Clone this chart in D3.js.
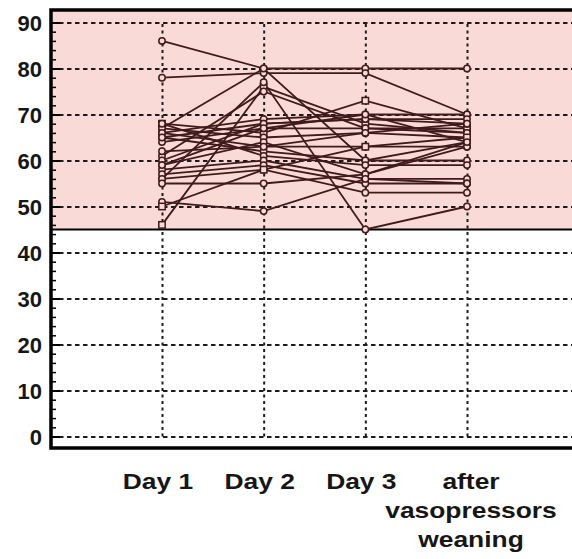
<!DOCTYPE html>
<html>
<head>
<meta charset="utf-8">
<script src="https://cdn.jsdelivr.net/npm/d3@7"></script>
<style>
  html, body { margin: 0; padding: 0; background: #ffffff; }
  svg { display: block; }
  text { font-family: "Liberation Sans", Arial, sans-serif; font-weight: bold; fill: #161616; }
</style>
</head>
<body>
<svg id="chart" width="572" height="559"></svg>
<script>
// Time points and their (multi-line) labels
const categories = ["Day 1", "Day 2", "Day 3", "after vasopressors weaning"];
const categoryLabelLines = [["Day 1"], ["Day 2"], ["Day 3"], ["after", "vasopressors", "weaning"]];

// Axis ticks
const yTickValues = [0, 10, 20, 30, 40, 50, 60, 70, 80, 90];
const yMinorTickValues = d3.range(0, 92, 2);

// Shaded target band (values at or above this threshold)
const bandLow = 45;

// One row per patient: value at Day 1, Day 2, Day 3, after weaning
const patient01 = [86, 80, 80, 80];
const patient02 = [78, 79, 79, 70];
const patient03 = [46, 76, 68, 66];
const patient04 = [56, 77, 45, 50];
const patient05 = [67, 80, 60, 64];
const patient06 = [68, 66, 73, 67];
const patient07 = [66, 69, 70, 70];
const patient08 = [65, 68, 69, 69];
const patient09 = [64, 67, 67, 67];
const patient10 = [67, 65, 66, 65];
const patient11 = [66, 63, 63, 63];
const patient12 = [65, 62, 60, 60];
const patient13 = [68, 61, 59, 59];
const patient14 = [61, 75, 67, 66];
const patient15 = [60, 68, 69, 68];
const patient16 = [59, 64, 57, 64];
const patient17 = [58, 60, 56, 56];
const patient18 = [57, 59, 55, 55];
const patient19 = [56, 58, 53, 53];
const patient20 = [55, 55, 57, 63];
const patient21 = [51, 49, 56, 55];
const patient22 = [50, 58, 63, 65];
const patient23 = [62, 63, 66, 68];
const patient24 = [59, 67, 70, 64];

const patients = [patient01, patient02, patient03, patient04, patient05, patient06,
  patient07, patient08, patient09, patient10, patient11, patient12, patient13,
  patient14, patient15, patient16, patient17, patient18, patient19, patient20,
  patient21, patient22, patient23, patient24];

// Marker shape per patient ("s" = square, otherwise circle)
const markerShapes = ["c", "c", "s", "c", "c", "s", "c", "c", "c", "c", "c", "c", "c",
  "c", "c", "c", "c", "c", "c", "c", "c", "s", "c", "c"];

const svg = d3.select("#chart");

const frame = { left: 51, right: 575, top: 10, bottom: 448 };

const x = d3.scalePoint().domain(categories).range([162, 467]);
const y = d3.scaleLinear().domain([0, 90]).range([436.5, 22.5]);

const lineColor = "#3f1b1b";
const pink = "#f9dad6";

// Shaded band from the threshold up to the top of the frame
svg.append("rect")
  .attr("x", frame.left)
  .attr("y", frame.top)
  .attr("width", frame.right - frame.left)
  .attr("height", y(bandLow) - frame.top)
  .attr("fill", pink);

// Horizontal dashed gridlines
const hGrid = svg.append("g")
  .attr("transform", `translate(${frame.left},0)`)
  .call(d3.axisLeft(y).tickValues(yTickValues).tickSize(-(frame.right - frame.left)).tickFormat(""));
hGrid.select(".domain").remove();
hGrid.selectAll(".tick line")
  .attr("stroke", "#1c1c1c")
  .attr("stroke-width", 2)
  .attr("stroke-dasharray", "4.5,3.5");

// Vertical dotted gridlines at each time point
const vGrid = svg.append("g")
  .attr("transform", `translate(0,${y(0)})`)
  .call(d3.axisBottom(x).tickSize(-(y(0) - y(90))).tickSizeOuter(0).tickFormat(""));
vGrid.select(".domain").remove();
vGrid.selectAll(".tick line")
  .attr("stroke", "#1c1c1c")
  .attr("stroke-width", 2)
  .attr("stroke-dasharray", "3,3.5");

// Threshold line
svg.append("line")
  .attr("x1", frame.left).attr("x2", frame.right)
  .attr("y1", y(bandLow)).attr("y2", y(bandLow))
  .attr("stroke", "#000").attr("stroke-width", 2);

// Patient trajectories
const line = d3.line()
  .x((d, i) => x(categories[i]))
  .y(d => y(d));

const series = svg.append("g");
series.selectAll("path")
  .data(patients)
  .join("path")
  .attr("d", line)
  .attr("fill", "none")
  .attr("stroke", lineColor)
  .attr("stroke-width", 1.8);

// Markers
patients.forEach((vals, p) => {
  const g = series.append("g");
  vals.forEach((v, i) => {
    const cx = x(categories[i]), cy = y(v);
    if (markerShapes[p] === "s") {
      g.append("rect")
        .attr("x", cx - 3.2).attr("y", cy - 3.2)
        .attr("width", 6.4).attr("height", 6.4)
        .attr("fill", pink).attr("stroke", lineColor).attr("stroke-width", 1.5);
    } else {
      g.append("circle")
        .attr("cx", cx).attr("cy", cy).attr("r", 3.2)
        .attr("fill", pink).attr("stroke", lineColor).attr("stroke-width", 1.5);
    }
  });
});

// Left axis: minor ticks pointing inward
const minor = svg.append("g")
  .attr("transform", `translate(${frame.left},0)`)
  .call(d3.axisLeft(y).tickValues(yMinorTickValues).tickSize(-5).tickFormat(""));
minor.select(".domain").remove();
minor.selectAll(".tick line").attr("stroke", "#000").attr("stroke-width", 1.5);

// Left axis: major ticks and labels
const major = svg.append("g")
  .attr("transform", `translate(${frame.left},0)`)
  .call(d3.axisLeft(y).tickValues(yTickValues).tickSize(-9).tickPadding(9));
major.select(".domain").remove();
major.selectAll(".tick line").attr("stroke", "#000").attr("stroke-width", 2);
major.selectAll(".tick text")
  .attr("font-size", 22)
  .attr("font-family", "Liberation Sans, Arial, sans-serif")
  .attr("font-weight", "bold")
  .attr("fill", "#161616")
  .attr("dy", "0.36em");

// Frame
svg.append("path")
  .attr("d", `M${frame.right},${frame.top}H${frame.left}V${frame.bottom}H${frame.right}`)
  .attr("fill", "none")
  .attr("stroke", "#000")
  .attr("stroke-width", 3.5);

// Category labels under the chart
const xl = svg.append("g");
categoryLabelLines.forEach((lines, i) => {
  const t = xl.append("text")
    .attr("transform", `translate(${x(categories[i]) + (i === 3 ? 4 : -4)},489) scale(1.2,1)`)
    .attr("text-anchor", "middle")
    .attr("font-size", 22);
  lines.forEach((s, k) => {
    t.append("tspan").attr("x", 0).attr("y", k * 29).text(s);
  });
});
</script>
</body>
</html>
